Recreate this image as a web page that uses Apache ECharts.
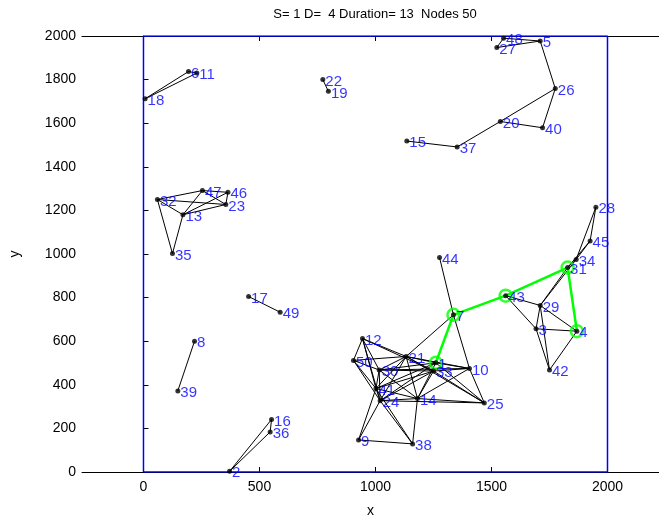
<!DOCTYPE html>
<html lang="en">
<head>
    <meta charset="UTF-8">
    <title>Network</title>
    <script src="https://cdn.jsdelivr.net/npm/echarts@6/dist/echarts.min.js"></script>
    <style>
        html, body { margin: 0; padding: 0; background: #fff; }
        #chart1 { width: 659px; height: 523px; }
    </style>
</head>
<body>
<div id="chart1"></div>
<script type="text/javascript">
    // node ids and positions
    var nodeIds = [1, 2, 3, 4, 5, 6, 7, 8, 9, 10,
        11, 12, 13, 14, 15, 16, 17, 18, 19, 20,
        21, 22, 23, 24, 25, 26, 27, 28, 29, 30,
        31, 32, 33, 34, 35, 36, 37, 38, 39, 40,
        41, 42, 43, 44, 45, 46, 47, 48, 49, 50];
    var nodeX = [1260, 371, 1692, 1868, 1710, 194, 1336, 220, 927, 1405,
        230, 944, 170, 1181, 1135, 552, 453, 7, 797, 1538,
        1132, 773, 355, 1020, 1469, 1775, 1523, 1950, 1710, 1016,
        1828, 60, 1250, 1865, 125, 546, 1352, 1160, 148, 1720,
        1002, 1750, 1561, 1276, 1925, 364, 254, 1552, 589, 905];
    var nodeY = [501, 3, 657, 646, 1977, 1837, 721, 600, 147, 475,
        1830, 612, 1180, 337, 1518, 241, 805, 1712, 1746, 1608,
        530, 1800, 1227, 327, 317, 1759, 1947, 1215, 764, 468,
        938, 1250, 463, 975, 1002, 184, 1491, 129, 372, 1579,
        383, 468, 809, 984, 1060, 1283, 1291, 1990, 733, 512];

    // links between nodes
    var edges = [
        [18, 6], [18, 11], [6, 11], [22, 19], [15, 37], [37, 20], [20, 26], [20, 40], [40, 26],
        [26, 5], [5, 27], [5, 48], [48, 27],
        [32, 47], [32, 23], [32, 13], [32, 35], [47, 46], [47, 13], [47, 23], [46, 13], [46, 23],
        [13, 23], [13, 35], [17, 49], [8, 39], [16, 36], [16, 2], [36, 2],
        [28, 45], [28, 34], [45, 34], [45, 31], [34, 31], [34, 29], [31, 29],
        [43, 29], [43, 3], [29, 3], [29, 4], [29, 42], [3, 4], [3, 42], [4, 42],
        [44, 7], [7, 10], [7, 21],
        [12, 50], [12, 21], [12, 30], [12, 41], [12, 24], [12, 33],
        [50, 21], [50, 30], [50, 41], [50, 24],
        [21, 30], [21, 41], [21, 24], [21, 14], [21, 1], [21, 33], [21, 10], [21, 25],
        [30, 1], [30, 33], [30, 10], [30, 41], [30, 24], [30, 14],
        [41, 1], [41, 33], [41, 14], [41, 24], [41, 9], [41, 38],
        [24, 33], [24, 14], [24, 25], [24, 9], [24, 38], [24, 1],
        [14, 33], [14, 1], [14, 38], [14, 25], [14, 10],
        [33, 10], [33, 25], [1, 10], [1, 25], [10, 25], [9, 38]
    ];

    // route from S to D
    var pathNodes = [1, 7, 43, 31, 4];

    // deployment area outline
    var areaX = [0, 0, 2000, 2000, 0];
    var areaY = [0, 2000, 2000, 0, 0];

    var xTicks = [0, 500, 1000, 1500, 2000];
    var titleText = 'S= 1 D=  4 Duration= 13  Nodes 50';

    function pos(id) {
        var i = nodeIds.indexOf(id);
        return [nodeX[i], nodeY[i]];
    }

    var edgeData = edges.map(function (e) {
        return {coords: [pos(e[0]), pos(e[1])]};
    });
    var pathData = [];
    for (var i = 0; i < pathNodes.length - 1; i++) {
        pathData.push({coords: [pos(pathNodes[i]), pos(pathNodes[i + 1])]});
    }
    var nodeData = nodeIds.map(function (id, i) {
        return {value: [nodeX[i], nodeY[i]], name: String(id)};
    });
    var ringData = pathNodes.map(function (id) {
        return pos(id);
    });
    var areaData = areaX.map(function (x, i) {
        return [x, areaY[i]];
    });

    var font = 'Liberation Sans, Arial, sans-serif';
    var plain = function (v) { return String(v); };
    var myChart1 = echarts.init(document.getElementById('chart1'));
    myChart1.setOption({
        animation: false,
        title: {
            text: titleText,
            left: 370,
            textAlign: 'center',
            top: 3,
            textStyle: {fontFamily: font, fontSize: 13, fontWeight: 'normal', color: '#000'}
        },
        grid: {left: 82, right: 0, top: 36, bottom: 48},
        xAxis: [{
            type: 'value',
            min: -265,
            max: 2222,
            name: 'x',
            nameLocation: 'middle',
            nameGap: 32,
            nameTextStyle: {fontFamily: font, fontSize: 14, color: '#000'},
            axisLine: {lineStyle: {color: '#000', width: 1}},
            axisTick: {inside: true, length: 5, customValues: xTicks, lineStyle: {color: '#000'}},
            axisLabel: {customValues: xTicks, formatter: plain, fontFamily: font, fontSize: 14, color: '#000', margin: 8},
            splitLine: {show: false}
        }, {
            type: 'value',
            position: 'top',
            min: -265,
            max: 2222,
            axisLine: {lineStyle: {color: '#000', width: 1}},
            axisTick: {inside: true, length: 5, customValues: xTicks, lineStyle: {color: '#000'}},
            axisLabel: {show: false},
            splitLine: {show: false}
        }],
        yAxis: {
            type: 'value',
            min: 0,
            max: 2000,
            interval: 200,
            name: 'y',
            nameLocation: 'middle',
            nameGap: 60,
            nameTextStyle: {fontFamily: font, fontSize: 14, color: '#000'},
            axisLine: {show: true, lineStyle: {color: '#000', width: 1}},
            axisTick: {show: true, inside: true, length: 5, lineStyle: {color: '#000'}},
            axisLabel: {formatter: plain, fontFamily: font, fontSize: 14, color: '#000', margin: 6},
            splitLine: {show: false}
        },
        series: [{
            name: 'area',
            type: 'line',
            data: areaData,
            symbol: 'none',
            lineStyle: {color: '#0000ff', width: 1.5},
            z: 3
        }, {
            name: 'links',
            type: 'lines',
            coordinateSystem: 'cartesian2d',
            data: edgeData,
            lineStyle: {color: '#000', width: 1, opacity: 1},
            z: 4
        }, {
            name: 'route',
            type: 'lines',
            coordinateSystem: 'cartesian2d',
            data: pathData,
            lineStyle: {color: '#00ff00', width: 2.5, opacity: 1},
            z: 5
        }, {
            name: 'ring',
            type: 'scatter',
            data: ringData,
            symbol: 'circle',
            symbolSize: 12,
            itemStyle: {color: 'rgba(0,0,0,0)', borderColor: '#00ff00', borderWidth: 2.5},
            z: 6
        }, {
            name: 'nodes',
            type: 'scatter',
            data: nodeData,
            symbol: 'circle',
            symbolSize: 5,
            itemStyle: {color: '#000'},
            label: {
                show: true,
                position: 'right',
                distance: 0,
                offset: [0, 2],
                formatter: '{b}',
                fontFamily: font,
                fontSize: 15,
                color: '#0000ff'
            },
            z: 7
        }]
    });
</script>
</html>
